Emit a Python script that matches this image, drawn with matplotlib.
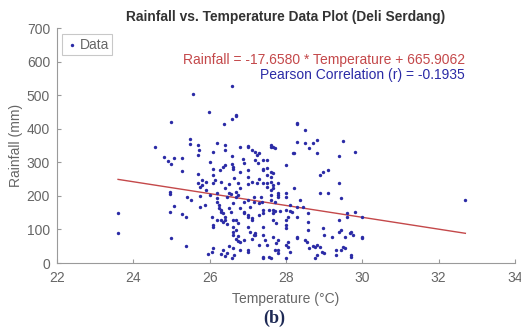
import numpy as np
import matplotlib
matplotlib.use("Agg")
import matplotlib.pyplot as plt

plt.rcParams["font.family"] = ["Liberation Sans", "DejaVu Sans"]

# точки (температура, осадки)
temperature = [
    23.6, 23.6, 24.57, 24.8, 24.9, 25.0, 25.06, 25.27, 24.98, 25.56, 25.48, 25.48,
    25.27, 24.96, 24.96, 25.4, 25.5, 25.06, 24.96, 25.27, 25.38, 24.98, 25.38,
    25.7, 25.72, 25.7, 25.7, 25.7, 25.8, 25.75, 25.8, 25.9, 25.88, 25.75, 25.75,
    25.98, 26.0, 26.08, 26.2, 26.0, 25.95, 26.08, 26.07, 26.05, 26.08, 26.1, 26.08,
    26.13, 26.1, 26.1, 25.9, 26.2, 26.2, 26.2, 26.2, 26.25, 26.25,
    26.37, 26.4, 26.4, 26.4, 26.35, 26.27, 26.3, 26.4, 26.45, 26.3, 26.4, 26.35,
    26.45, 26.3, 26.35, 26.3, 26.4, 26.35, 26.45, 26.3, 26.4, 26.5, 26.5, 26.5,
    26.5, 26.55, 26.58, 26.58, 26.58, 26.6, 26.58, 26.6, 26.6, 26.6, 26.6, 26.6,
    26.6, 26.6, 26.65, 26.58, 26.55,
    26.7, 26.7, 26.65, 26.75, 26.8, 26.75, 26.7, 26.7, 26.8, 26.87, 26.9, 26.8,
    26.8, 26.7, 26.75, 26.7, 26.75, 26.8, 26.8, 26.9, 26.9, 26.9, 26.9, 26.7, 26.75,
    27.0, 27.0, 27.1, 27.2, 27.25, 27.3, 27.0, 27.0, 27.1, 27.0, 27.0, 27.05, 27.0,
    27.1, 27.0, 27.1, 27.0, 27.05, 27.15, 27.1, 27.0, 27.0, 27.2, 27.26, 27.15,
    27.15, 27.25, 27.3, 27.3, 27.3, 27.2, 27.3, 27.2,
    27.4, 27.5, 27.4, 27.5, 27.4, 27.4, 27.5, 27.5, 27.5, 27.4, 27.4, 27.4, 27.4,
    27.45, 27.4, 27.4, 27.55, 27.6, 27.35, 27.38, 27.6, 27.65, 27.7, 27.6, 27.6,
    27.65, 27.6, 27.65, 27.6, 27.6, 27.6, 27.65, 27.6, 27.7, 27.55, 27.65, 27.65,
    27.7, 27.65, 27.75, 27.65, 27.8, 27.75, 27.7, 27.5,
    27.8, 27.8, 27.8, 27.8, 27.85, 28.0, 28.0, 28.0, 28.2, 28.1, 28.3, 28.0, 28.1,
    28.15, 28.3, 28.0, 28.05, 28.0, 28.0, 28.05, 28.0, 28.05, 28.0, 28.1, 27.8,
    27.8, 28.18, 28.3, 28.28, 28.3, 28.2, 28.3, 28.28, 28.36,
    28.5, 28.5, 28.7, 28.6, 28.8, 28.8, 28.45, 28.57, 28.57, 28.57, 28.55, 28.5,
    28.7, 28.6, 28.8, 28.75, 28.8, 28.75, 28.9, 28.95, 29.0, 28.9, 28.96, 29.1,
    28.9, 29.1, 28.96, 29.0,
    29.2, 29.3, 29.3, 29.45, 29.55, 29.5, 29.7, 29.7, 29.67, 29.75, 29.7, 29.45,
    29.55, 29.4, 29.4, 29.45, 29.4, 29.6, 29.6, 29.8, 30.0, 30.0, 30.0, 29.5, 29.4,
    29.8,
    32.7,
]
rainfall = [
    149, 89, 346, 316, 304, 295, 313, 313, 420, 503, 369, 354,
    274, 211, 205, 196, 187, 170, 152, 146, 137, 74, 51,
    351, 338, 322, 265, 238, 232, 226, 247, 217, 173, 200, 167,
    450, 301, 331, 357, 202, 27, 45, 33, 137, 113, 107, 262,
    247, 280, 238, 241, 193, 181, 128, 208, 173, 164,
    414, 351, 336, 292, 286, 277, 241, 223, 196, 152, 137, 122,
    116, 158, 149, 128, 128, 39, 30, 27, 22, 51, 235, 208,
    164, 152, 527, 429, 319, 286, 295, 280, 179, 128, 107, 92,
    83, 45, 24, 15, 205,
    441, 438, 253, 238, 223, 202, 211, 196, 346, 310, 298, 271,
    164, 128, 119, 98, 80, 63, 39, 68, 152, 182, 149, 72, 65,
    349, 346, 337, 331, 322, 328, 277, 256, 241, 235, 187, 167, 143,
    134, 137, 128, 107, 92, 83, 71, 33, 39, 307, 298, 196,
    181, 238, 250, 179, 143, 89, 54, 83,
    307, 307, 277, 283, 280, 238, 262, 238, 226, 158, 149, 107, 83,
    68, 15, 18, 18, 15, 196, 181, 346, 346, 342, 351, 271,
    268, 256, 232, 241, 217, 202, 223, 187, 181, 158, 149, 158,
    155, 128, 119, 77, 68, 60, 39, 54,
    238, 202, 208, 196, 155, 292, 208, 196, 223, 173, 167, 158, 155,
    152, 137, 128, 137, 113, 104, 63, 54, 48, 15, 33, 39,
    30, 328, 417, 414, 360, 328, 74, 77, 187,
    396, 357, 357, 342, 366, 328, 167, 149, 122, 98, 63, 68,
    51, 45, 54, 48, 24, 15, 48, 33, 30, 262, 271, 277,
    208, 208, 104, 83,
    77, 24, 39, 39, 45, 48, 24, 18, 89, 83, 92, 98,
    77, 92, 238, 193, 128, 149, 137, 152, 137, 77, 74, 363, 319,
    331,
    187,
]

slope = -17.6580
intercept = 665.9062
pearson_r = -0.1935

x_ticks = [22, 24, 26, 28, 30, 32, 34]
y_ticks = [0, 100, 200, 300, 400, 500, 600, 700]

fig = plt.figure(figsize=(5.21, 3.29), dpi=100)
ax = fig.add_axes([0.1094, 0.2006, 0.879, 0.714])

ax.scatter(temperature, rainfall, s=6, color="#2b2ba6", linewidths=0, label="Data", zorder=3)

t = np.array(temperature)
x_line = np.array([t.min(), t.max()])
ax.plot(x_line, slope * x_line + intercept, color="#c4484a", lw=1.0, zorder=2)

ax.set_xlim(22, 34)
ax.set_ylim(0, 700)
ax.set_xticks(x_ticks)
ax.set_yticks(y_ticks)

for s in ["top", "right"]:
    ax.spines[s].set_visible(False)
for s in ["left", "bottom"]:
    ax.spines[s].set_color("#9a9a9a")
    ax.spines[s].set_linewidth(0.8)
ax.tick_params(direction="in", length=3, width=0.8, color="#9a9a9a",
               labelcolor="#666666", labelsize=10)
ax.tick_params(axis="x", pad=6)
ax.tick_params(axis="y", pad=5)

ax.set_title("Rainfall vs. Temperature Data Plot (Deli Serdang)",
             fontsize=9.9, fontweight="bold", color="#333333", pad=5)
ax.set_xlabel("Temperature (°C)", fontsize=10, color="#666666", labelpad=5)
ax.set_ylabel("Rainfall (mm)", fontsize=10, color="#666666", labelpad=3)

ax.text(0.891, 0.864, f"Rainfall = {slope:.4f} * Temperature + {intercept:.4f}",
        transform=ax.transAxes, ha="right", va="center", fontsize=10, color="#c4484a")
ax.text(0.891, 0.80, f"Pearson Correlation (r) = {pearson_r:.4f}",
        transform=ax.transAxes, ha="right", va="center", fontsize=10, color="#2b2ba6")

leg = ax.legend(loc="upper left", bbox_to_anchor=(0.005, 0.985), fontsize=10,
                frameon=True, fancybox=False, handletextpad=0.1, borderpad=0.25,
                handlelength=0.9, borderaxespad=0.2, markerscale=1.0)
leg.get_frame().set_edgecolor("#bbbbbb")
leg.get_frame().set_linewidth(0.8)
for txt in leg.get_texts():
    txt.set_color("#666666")

fig.text(0.527, 0.032, "(b)", family=["Liberation Serif", "DejaVu Serif"],
         fontweight="bold", fontsize=13, color="#1e2a55", ha="center", va="center")

fig.savefig("out.png", dpi=100)
